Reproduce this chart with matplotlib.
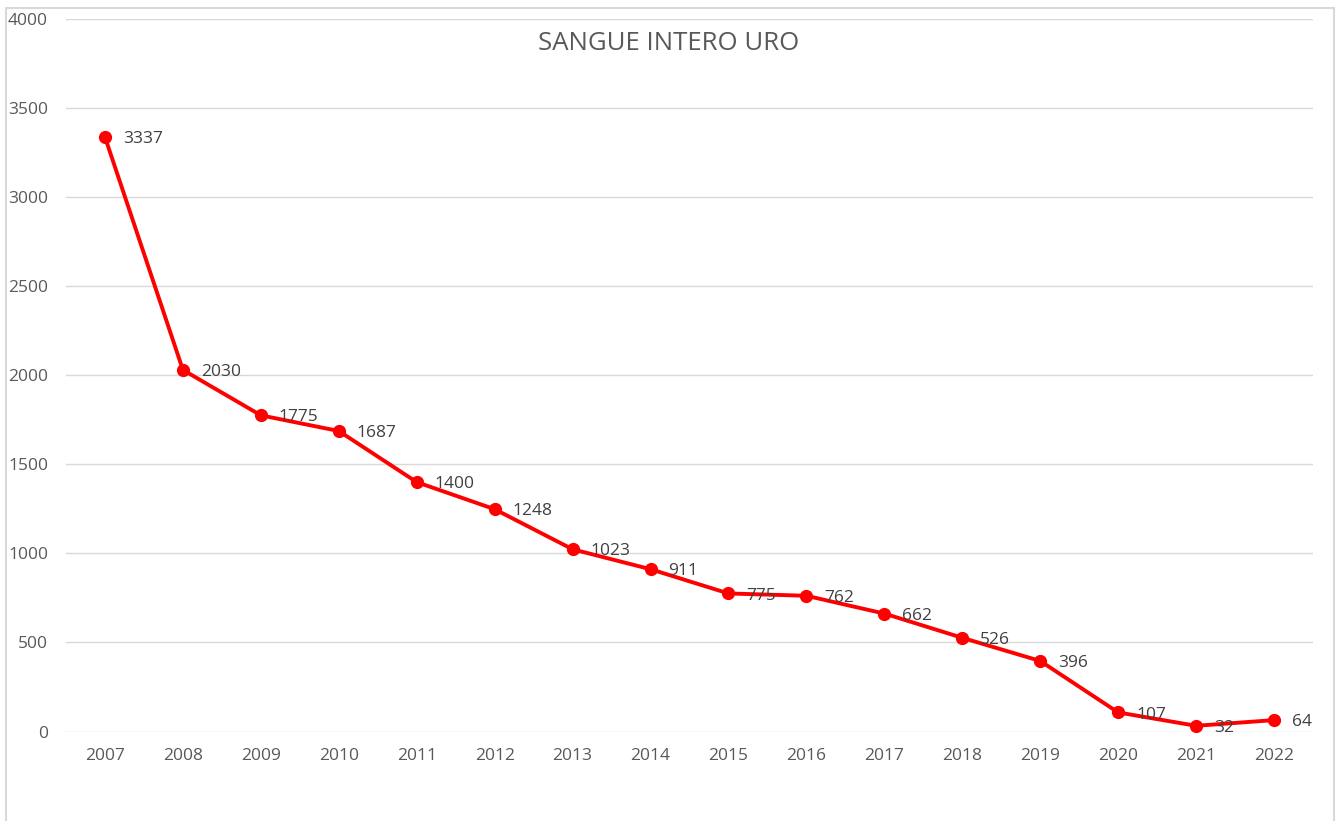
import matplotlib
matplotlib.use("Agg")
import matplotlib.pyplot as plt
from matplotlib.patches import Rectangle

years = ["2007", "2008", "2009", "2010", "2011", "2012", "2013", "2014",
         "2015", "2016", "2017", "2018", "2019", "2020", "2021", "2022"]
values = [3337, 2030, 1775, 1687, 1400, 1248, 1023, 911,
          775, 762, 662, 526, 396, 107, 32, 64]

plt.rcParams['font.family'] = ['Open Sans', 'DejaVu Sans']
grey = "#595959"

fig = plt.figure(figsize=(13.38, 8.21), dpi=100)
ax = fig.add_axes([66/1338, 1 - 731.5/821, (1313-66)/1338, (731.5-19)/821])

x = list(range(len(years)))
ax.plot(x, values, color="#ff0000", lw=2.8, marker="o", markersize=8.5, zorder=3)
for xi, v in zip(x, values):
    ax.annotate(str(v), (xi, v), xytext=(13, -1.5), textcoords="offset points",
                ha="left", va="center", fontsize=12.5, color="#404040", zorder=4)

ax.set_xlim(-0.5, len(years) - 0.5)
ax.set_ylim(0, 4000)
ax.set_yticks(range(0, 4001, 500))
ax.set_xticks(x)
ax.set_xticklabels(years)
ax.yaxis.grid(True, color="#d9d9d9", lw=1)
ax.set_axisbelow(True)
for s in ax.spines.values():
    s.set_visible(False)
ax.tick_params(length=0, colors=grey, labelsize=12.5)
ax.tick_params(axis="y", pad=13)
ax.tick_params(axis="x", pad=12)

fig.text(669/1338, 1 - 43/821, "SANGUE INTERO URO", ha="center", va="center",
         fontsize=18.5, color=grey)

# chart frame
fig.patches.append(Rectangle((6/1338, -0.1), (1334-6)/1338, 1.1 - 8/821,
                             transform=fig.transFigure, fill=False,
                             edgecolor="#d9d9d9", lw=1.5))

fig.savefig("out.png", dpi=100, facecolor="white")
